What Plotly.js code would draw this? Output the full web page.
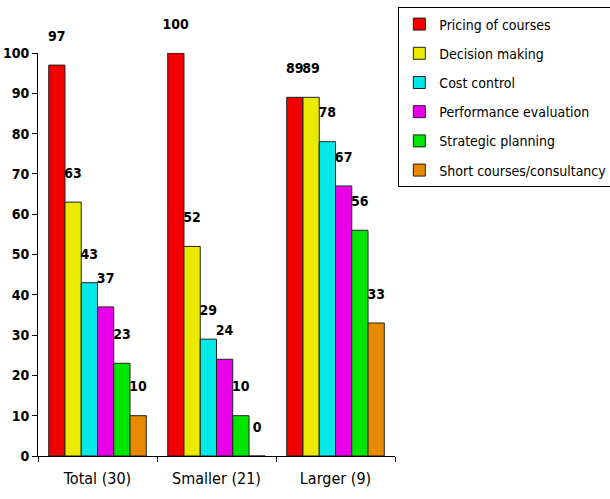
<!DOCTYPE html>
<html>
<head>
<meta charset="utf-8">
<script src="https://cdn.plot.ly/plotly-3.0.1.min.js"></script>
<style>html,body{margin:0;padding:0;background:#fff;}#chart{width:610px;height:499px;}</style>
</head>
<body>
<div id="chart"></div>
<script>
const categories = ["Total (30)", "Smaller (21)", "Larger (9)"];
const seriesNames = ["Pricing of courses", "Decision making", "Cost control", "Performance evaluation", "Strategic planning", "Short courses/consultancy"];
const pricing = [97, 100, 89];
const decision = [63, 52, 89];
const cost = [43, 29, 78];
const performance = [37, 24, 67];
const strategic = [23, 10, 56];
const shortCourses = [10, 0, 33];
const seriesValues = [pricing, decision, cost, performance, strategic, shortCourses];
const colors = ["#F20000", "#EAEA00", "#00E8E8", "#E800E8", "#00E600", "#E88A00"];

const FONT = "DejaVu Sans Condensed, Liberation Sans Narrow, sans-serif";

const traces = seriesNames.map((name, i) => ({
  type: "bar",
  name: name,
  x: categories,
  y: seriesValues[i],
  marker: {color: colors[i], line: {color: "#222", width: 1}},
  text: seriesValues[i].map(v => String(v)),
  texttemplate: "%{text}<br> ",
  textposition: "outside",
  constraintext: "none",
  cliponaxis: false,
  textfont: {family: FONT, size: 14, color: "#000", weight: "bold"},
  legendgroup: "g" + i,
  hoverinfo: "x+y+name"
}));

const layout = {
  width: 610,
  height: 499,
  paper_bgcolor: "#fff",
  plot_bgcolor: "#fff",
  margin: {l: 38, r: 215, t: 53, b: 43},
  barmode: "group",
  bargap: 0.18,
  bargroupgap: 0,
  showlegend: true,
  legend: {
    xref: "container", yref: "container",
    x: 0.653, y: 0.985, xanchor: "left", yanchor: "top",
    bordercolor: "#000", borderwidth: 1,
    bgcolor: "#fff",
    font: {family: FONT, size: 14, color: "#000"},
    traceorder: "grouped",
    tracegroupgap: 8,
    itemwidth: 30
  },
  xaxis: {
    type: "category",
    showline: true, linecolor: "#000", linewidth: 1,
    ticks: "outside", ticklen: 5, tickcolor: "#000",
    tickson: "boundaries",
    showgrid: false,
    tickfont: {family: FONT, size: 16, color: "#000"},
    ticklabelstandoff: 8
  },
  yaxis: {
    range: [0, 100],
    dtick: 10,
    showline: true, linecolor: "#000", linewidth: 1,
    ticks: "outside", ticklen: 5, tickcolor: "#000",
    showgrid: false, zeroline: false,
    tickfont: {family: FONT, size: 14, color: "#000", weight: "bold"}
  }
};

Plotly.newPlot("chart", traces, layout, {displayModeBar: false, staticPlot: true});
</script>
</body>
</html>
